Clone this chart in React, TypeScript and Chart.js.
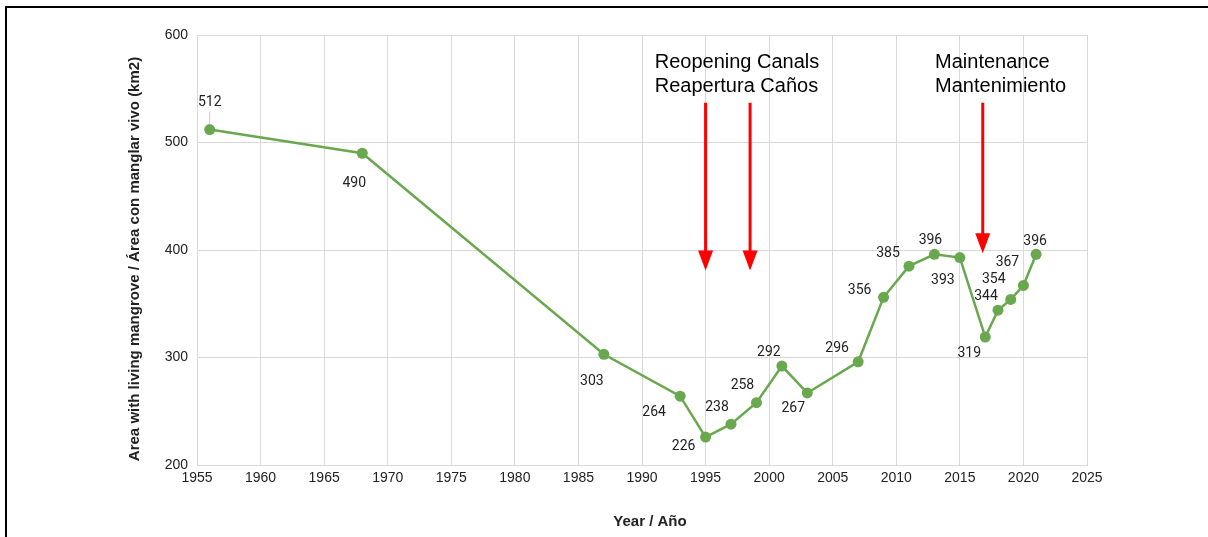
import React, { useEffect, useRef } from "react";
import { Chart, registerables } from "chart.js";

Chart.register(...registerables);

const years = [1956, 1968, 1987, 1993, 1995, 1997, 1999, 2001, 2003, 2007, 2009, 2011, 2013, 2015, 2017, 2018, 2019, 2020, 2021];
const areas = [512, 490, 303, 264, 226, 238, 258, 292, 267, 296, 356, 385, 396, 393, 319, 344, 354, 367, 396];
// label offsets (px) of each value label relative to its point
const labelDx = [0, -8, -12, -26, -22, -14, -14, -13, -14, -21, -24, -21, -4, -17, -16, -12, -17, -16, -1];
const labelDy = [-27, 30, 27, 16, 9, -17, -17, -14, 16, -13, -7, -13, -14, 23, 16, -14, -20, -23, -13];

const xTicks = [1955, 1960, 1965, 1970, 1975, 1980, 1985, 1990, 1995, 2000, 2005, 2010, 2015, 2020, 2025];
const yTicks = [200, 300, 400, 500, 600];

const xTitle = "Year / Año";
const yTitle = "Area with living mangrove / Área con manglar vivo (km2)";

// arrows: year, top value, tip value
const arrowYears = [1995, 1998.5, 2016.8];
const arrowTops = [537, 537, 537];
const arrowTips = [381, 381, 397];

const annotationLines = [
  ["Reopening Canals", "Reapertura Caños"],
  ["Maintenance", "Mantenimiento"],
];
const annotationYears = [1991.0, 2013.05];
const annotationValues = [569.6, 547.3];

const GREEN = "#6aa84f";
const FONT = "'Liberation Sans', Arial, sans-serif";

const overlayPlugin = {
  id: "overlay",
  afterDatasetsDraw(chart: any) {
    const ctx = chart.ctx;
    const xs = chart.scales.x;
    const ys = chart.scales.y;
    ctx.save();
    // leader line for first label
    const p0x = xs.getPixelForValue(years[0]);
    const p0y = ys.getPixelForValue(areas[0]);
    ctx.strokeStyle = "#cccccc";
    ctx.lineWidth = 1;
    ctx.beginPath();
    ctx.moveTo(p0x, p0y + labelDy[0] + 9);
    ctx.lineTo(p0x, p0y - 5);
    ctx.stroke();

    // value labels
    ctx.fillStyle = "#222222";
    ctx.font = "14px Roboto";
    ctx.textAlign = "center";
    ctx.textBaseline = "middle";
    years.forEach((yr, i) => {
      const px = xs.getPixelForValue(yr);
      const py = ys.getPixelForValue(areas[i]);
      ctx.fillText(String(areas[i]), px + labelDx[i], py + labelDy[i]);
    });

    // arrows
    ctx.strokeStyle = "#ff0000";
    ctx.fillStyle = "#ff0000";
    ctx.lineWidth = 3;
    arrowYears.forEach((yr, i) => {
      const ax = xs.getPixelForValue(yr);
      const top = ys.getPixelForValue(arrowTops[i]);
      const tip = ys.getPixelForValue(arrowTips[i]);
      const headH = 20;
      ctx.beginPath();
      ctx.moveTo(ax, top);
      ctx.lineTo(ax, tip - headH + 2);
      ctx.stroke();
      ctx.beginPath();
      ctx.moveTo(ax - 7.5, tip - headH);
      ctx.lineTo(ax + 7.5, tip - headH);
      ctx.lineTo(ax, tip);
      ctx.closePath();
      ctx.fill();
    });

    // annotation texts
    ctx.fillStyle = "#000000";
    ctx.font = "20px " + FONT;
    ctx.textAlign = "left";
    ctx.textBaseline = "alphabetic";
    annotationLines.forEach((lines, i) => {
      const tx = xs.getPixelForValue(annotationYears[i]);
      const ty = ys.getPixelForValue(annotationValues[0]);
      const ty2 = ys.getPixelForValue(annotationValues[1]);
      ctx.fillText(lines[0], tx, ty);
      ctx.fillText(lines[1], tx, ty2);
    });

    // axis titles
    ctx.fillStyle = "#222222";
    ctx.font = "bold 15px " + FONT;
    ctx.textAlign = "center";
    ctx.textBaseline = "middle";
    ctx.fillText(xTitle, 650, 522);
    ctx.save();
    ctx.translate(135, 259);
    ctx.rotate(-Math.PI / 2);
    ctx.fillText(yTitle, 0, 0);
    ctx.restore();
    ctx.restore();
  },
};

export default function App() {
  const ref = useRef<HTMLCanvasElement | null>(null);
  useEffect(() => {
    if (!ref.current) return;
    const chart = new Chart(ref.current, {
      type: "line",
      data: {
        datasets: [
          {
            data: years.map((y, i) => ({ x: y, y: areas[i] })),
            borderColor: GREEN,
            backgroundColor: GREEN,
            pointBackgroundColor: GREEN,
            pointBorderColor: GREEN,
            borderWidth: 2.5,
            pointRadius: 5.5,
            pointBorderWidth: 0,
            tension: 0,
          },
        ],
      },
      options: {
        responsive: false,
        animation: false,
        layout: { padding: { left: 0, top: 35, right: 121, bottom: 0 } },
        plugins: { legend: { display: false }, tooltip: { enabled: false } },
        scales: {
          x: {
            type: "linear",
            min: 1955,
            max: 2025,
            afterBuildTicks: (s: any) => {
              s.ticks = xTicks.map((v) => ({ value: v }));
            },
            afterFit: (s: any) => {
              s.height = 72;
            },
            ticks: {
              callback: (v: any) => String(v),
              color: "#222222",
              font: { family: FONT, size: 14 },
              padding: 5,
              maxRotation: 0,
            },
            grid: { color: "#d9d9d9", lineWidth: 1, drawTicks: false },
            border: { color: "#d9d9d9", width: 1 },
            title: { display: false, text: xTitle },
          },
          y: {
            min: 200,
            max: 600,
            afterBuildTicks: (s: any) => {
              s.ticks = yTicks.map((v) => ({ value: v }));
            },
            afterFit: (s: any) => {
              s.width = 197;
            },
            ticks: {
              color: "#222222",
              font: { family: FONT, size: 14 },
              padding: 9,
            },
            grid: { color: "#d9d9d9", lineWidth: 1, drawTicks: false },
            border: { color: "#d9d9d9", width: 1 },
            title: { display: false, text: yTitle },
          },
        },
      },
      plugins: [overlayPlugin],
    });
    return () => chart.destroy();
  }, []);

  return (
    <div style={{ position: "fixed", left: 0, top: 0, width: 1208, height: 537, background: "#fff", overflow: "hidden" }}>
      <canvas ref={ref} width={1208} height={537} style={{ position: "absolute", left: 0, top: 0 }} />
      <div
        style={{
          position: "absolute",
          left: 5,
          top: 6,
          width: 1400,
          height: 700,
          borderTop: "2px solid #000",
          borderLeft: "2px solid #000",
          pointerEvents: "none",
        }}
      />
    </div>
  );
}
